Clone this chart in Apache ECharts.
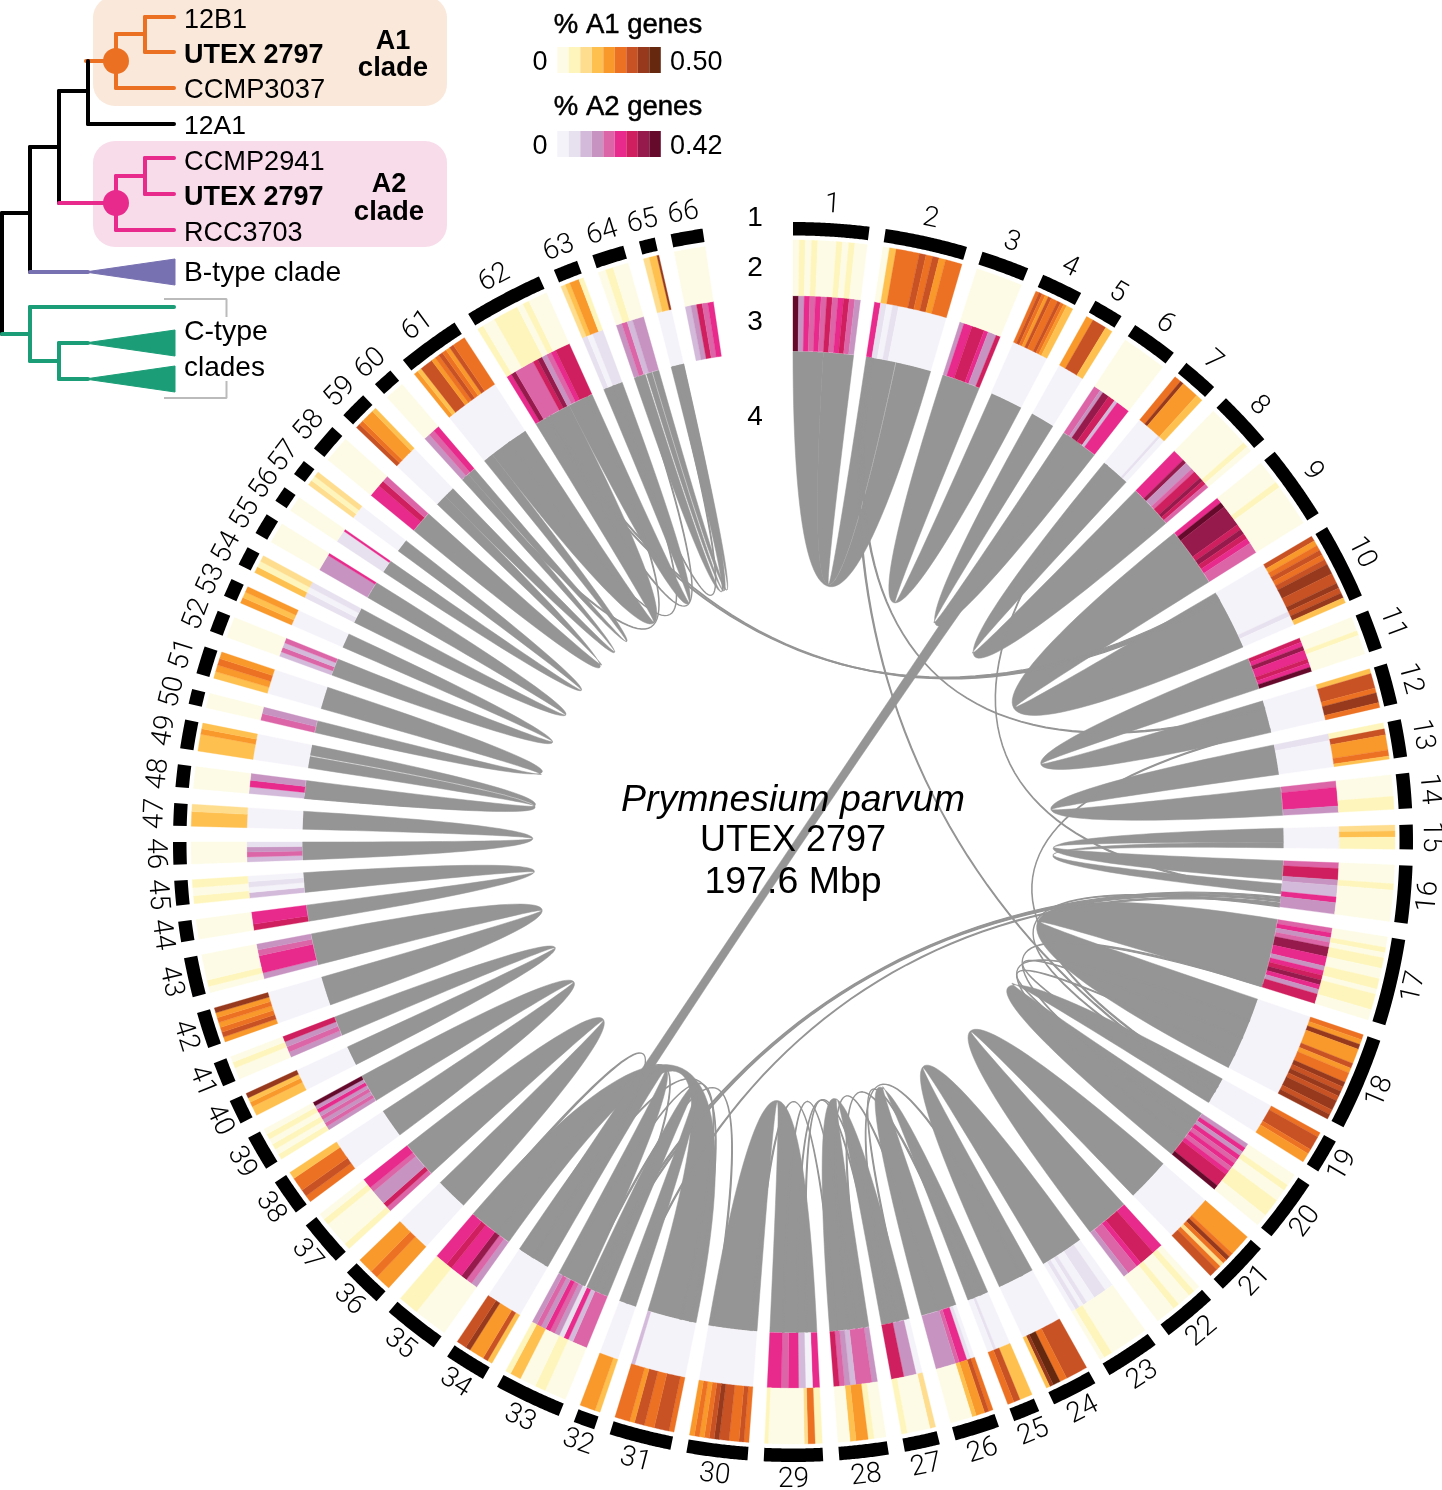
<!DOCTYPE html>
<html><head><meta charset="utf-8">
<style>html,body{margin:0;padding:0;background:#fff}#c{width:1442px;height:1490px}</style>
<script src="https://cdn.jsdelivr.net/npm/echarts@6/dist/echarts.min.js"></script>
</head><body><div id="c"></div>
<script>
// ---------- data ----------
const chromosomeSizesMb = [5.52,5.99,3.50,3.03,2.18,3.42,2.64,4.04,5.44,5.52,2.88,2.96,2.72,2.57,1.79,4.20,6.30,6.77,2.49,4.59,3.97,3.97,3.97,3.34,1.94,3.27,2.57,3.58,4.28,4.43,4.51,1.56,4.90,3.03,4.12,2.96,3.34,2.64,2.57,1.79,1.79,2.64,2.88,1.48,1.79,1.63,1.63,1.63,2.10,1.09,2.02,1.56,1.32,1.40,1.56,1.17,1.17,2.02,2.02,1.48,4.59,5.76,1.79,2.33,1.17,2.33];
// one digit per genomic bin: colour class 0..8 of the percentage of genes
const a1Levels = ["001100110000001100110000","003355555556655664455555","0","565465565433","44666633","0","5574444433","0000000010","000010000000","64565677667673","00010000","36665775","116644444553","00000111","2311","000100000","0010110011011100","547444645576767767","5666544","0010011100","444445752566","01001000","000000000110","666666558873","33336655","5644300000","200001","00144300","1155200000000001","565566765454","566655664555","3444","000011000331","36444766","00000111","44544","1000010","56553","101010","33437","0010","4654547","010000","0","101","0","332","0","33343","0","3454","0","434","312","0","0","212","0","654443","0","43666456546555","100111101000","23441","0100","22233337","0"];
const a2Levels = ["883355445544664455664433","551100110000000000000000","3556665336","0","0","443776625555","000000000100","555733466764","587777676544","00000000000100","65755658","0","1100000000","45553","0","466322533","4534775535675366","0","0","353545456668","0","556665443","00111001010","0","00000100","0155433333","03366","34442346","550022555445555","0","0000000000000002","0","444251345343","0","34755655","0","46333455","0","34343538","0","3436","0","355543","655","2010","2431","0","253","0","43","0","2424","0","101","33333335","1111115","0","5564","0","345","0","57444467345666","1011","34233","0","23645"];
// homology links: chrA, fracA0, fracA1, chrB, fracB0, fracB1
const homologyBlocks = [
[1,0,.5,2,.46,1],[1,.5,1,2,0,.45],[3,0,1,4,.03,1],[5,0,1,6,0,1],[7,0,1,8,0,1],[9,0,1,10,0,1],[11,0,1,12,0,1],[13,0,1,14,0,1],
[15,0,.72,16,0,.42],[15,.72,1,16,.5,.72],[17,0,1,18,0,1],[19,0,1,20,0,1],[21,0,1,22,0,1],[23,0,1,24,0,1],[25,0,1,26,0,1],[27,0,1,28,0,1],[29,0,1,30,0,1],
[31,0,1,35,0,1],[32,0,1,33,0,.42],[33,.46,1,34,0,1],[36,0,1,37,0,1],[38,0,1,39,0,1],[40,0,1,41,0,1],[42,0,1,43,0,1],[44,0,1,45,0,1],[46,0,1,47,0,1],
[48,0,1,49,0,.5],[48,0,.1,49,.55,1],[50,0,1,51,0,1],[52,0,1,53,0,1],[54,0,1,55,0,1],[56,0,1,57,0,1],[58,0,1,59,0,.5],[59,.5,1,60,0,.5],[60,.5,1,61,0,.2],[61,.2,1,62,0,.6],[62,.6,1,63,0,1],[64,0,.45,65,0,1],[64,.5,.72,65,.2,.7],[64,.75,1,65,.6,1],
[6,.12,.52,34,.55,.95]];
const thinLinks = [
[10,.05,.09,62,.2,.22],[10,.1,.14,62,.26,.28],
[2,.02,.05,19,.5,.55],[2,.08,.11,12,.2,.25],[7,.1,.14,16,.66,.7],[12,.88,.92,19,.3,.36],
[16,.79,.83,33,.3,.33],[16,.85,.89,33,.24,.27],[16,.92,.96,32,.5,.58],
[17,.96,.99,20,.3,.33],[18,.3,.32,20,.6,.63],[16,.97,1,19,.5,.55],[18,.55,.57,19,.9,.95],[18,.8,.82,20,.2,.23],
[24,.3,.35,27,.6,.65],[25,.3,.4,27,.1,.15],[25,.7,.8,28,.1,.14],[26,.5,.55,28,.5,.54],[27,.8,.85,29,.2,.23],[27,.4,.45,29,.4,.43],[28,.3,.33,29,.7,.73],[28,.8,.83,30,.1,.14],
[30,.9,.93,33,.5,.53],[31,.1,.13,34,.5,.55],[33,.1,.13,35,.3,.33],[34,.05,.1,35,.9,.95],[31,.3,.33,33,.9,.92],
[61,.6,.62,63,.5,.56],[62,.2,.22,64,.1,.14],[60,.2,.3,62,.9,.92],[63,.1,.16,65,.1,.2]];
const chromosomeLabels = chromosomeSizesMb.map((_, i) => String(i + 1));
const a1Palette = ['#fdfbe6','#fef5bd','#fedd8e','#fec04f','#f9982b','#ec7122','#c85223','#97391c','#66280e'];
const a2Palette = ['#f5f3fa','#e7e1ef','#d3b9da','#c794c2','#dc65a8','#e82a8c','#cf1f5e','#961a4c','#660a2c'];
const trackLabels = ['1','2','3','4'];
const cladeTaxa = ['12B1','UTEX 2797','CCMP3037','12A1','CCMP2941','UTEX 2797','RCC3703','B-type clade','C-type','clades'];
// tree drawn in its own (branch length, taxon row) layout on the page axes
const treeBranches = [
 ['#ec7022',[[86,61],[116,61]]],['#ec7022',[[116,34],[116,88]]],['#ec7022',[[116,34],[145,34]]],['#ec7022',[[145,17],[145,52]]],['#ec7022',[[145,17],[174,17]]],['#ec7022',[[145,52],[174,52]]],['#ec7022',[[116,88],[174,88]]],
 ['#000',[[88,61],[88,124]]],['#000',[[88,124],[174,124]]],['#000',[[59,91],[88,91]]],['#000',[[59,91],[59,203]]],['#000',[[30,147],[59,147]]],['#000',[[30,147],[30,272]]],['#000',[[2,213],[30,213]]],['#000',[[2,213],[2,334]]],
 ['#e82a8c',[[59,203],[116,203]]],['#e82a8c',[[116,176],[116,230]]],['#e82a8c',[[116,176],[145,176]]],['#e82a8c',[[145,158],[145,194]]],['#e82a8c',[[145,158],[174,158]]],['#e82a8c',[[145,194],[174,194]]],['#e82a8c',[[116,230],[174,230]]],
 ['#7871b1',[[30,272],[88,272]]],
 ['#1b9e77',[[2,334],[30,334]]],['#1b9e77',[[30,307],[30,361]]],['#1b9e77',[[30,307],[174,307]]],['#1b9e77',[[30,361],[59,361]]],['#1b9e77',[[59,343],[59,379]]],['#1b9e77',[[59,343],[88,343]]],['#1b9e77',[[59,379],[88,379]]]];
const collapsedClades = [['#7871b1',[[85,272],[175,259],[175,285]]],['#1b9e77',[[85,343],[175,330],[175,356]]],['#1b9e77',[[85,379],[175,366],[175,392]]]];

// ---------- layout of the circular tracks (radius axis is in px) ----------
const GAP = 1.1667, AXIS_MAX = 280;
const RIBBON_R = 490.5, CTRL_K = .375;
const TRACKS = {a2:[491,546.3], a1:[546.3,602], kary:[606.5,620], label:638};
const starts = []; { let s = 0; chromosomeSizesMb.forEach((z,i)=>{starts[i]=s; s+=z+GAP;}); }
const ends = starts.map((s,i)=>s+chromosomeSizesMb[i]);
const toDeg = a => a/AXIS_MAX*360;

function arc(api,r,a0,a1){const n=Math.max(2,Math.ceil(Math.abs(a1-a0)/0.12)+1),o=[];
  for(let i=0;i<n;i++)o.push(api.coord([r,a0+(a1-a0)*i/(n-1)]));return o;}
function sectorPoints(api,r0,r1,a0,a1){return arc(api,r1,a0,a1).concat(arc(api,r0,a1,a0));}
function heatRows(levels,track){const rows=[];
  levels.forEach((s,i)=>{const n=s.length;let j=0;
    while(j<n){let k=j;while(k+1<n&&s[k+1]===s[j])k++;
      const a0=starts[i]+chromosomeSizesMb[i]*j/n,a1=starts[i]+chromosomeSizesMb[i]*(k+1)/n;
      rows.push([(track[0]+track[1])/2,(a0+a1)/2,a0,a1,+s[j]]);j=k+1;}});
  return rows;}
function heatSeries(levels,track,palette,name){return {type:'custom',name,coordinateSystem:'polar',silent:true,clip:false,z:3,
  data:heatRows(levels,track),
  renderItem(p,api){const c=palette[api.value(4)];
    return {type:'polygon',shape:{points:sectorPoints(api,track[0],track[1],api.value(2),api.value(3))},style:{fill:c,stroke:c,lineWidth:.35}};}};}
function bezier(api,a,b,out){
  const p0=api.coord([RIBBON_R,a]),p3=api.coord([RIBBON_R,b]);
  const p1=api.coord([RIBBON_R*CTRL_K,a]),p2=api.coord([RIBBON_R*CTRL_K,b]);
  for(let i=1;i<48;i++){const t=i/48,u=1-t,w0=u*u*u,w1=3*u*u*t,w2=3*u*t*t,w3=t*t*t;
    out.push([w0*p0[0]+w1*p1[0]+w2*p2[0]+w3*p3[0],w0*p0[1]+w1*p1[1]+w2*p2[1]+w3*p3[1]]);}
}
function ribbonRows(list){return list.map(l=>{const A=l[0]-1,B=l[3]-1,sa=chromosomeSizesMb[A],sb=chromosomeSizesMb[B];
  return [RIBBON_R,starts[A]+sa*l[1],starts[A]+sa*l[2],starts[B]+sb*l[4],starts[B]+sb*l[5]];});}
function ribbonSeries(list,lw,name){return {type:'custom',name,coordinateSystem:'polar',silent:true,clip:false,z:2,
  data:ribbonRows(list),
  renderItem(p,api){const a0=api.value(1),a1=api.value(2),b0=api.value(3),b1=api.value(4),pts=[];
    arc(api,RIBBON_R,a0,a1).forEach(q=>pts.push(q));
    bezier(api,a1,b0,pts);
    arc(api,RIBBON_R,b0,b1).forEach(q=>pts.push(q));
    bezier(api,b1,a0,pts);
    return {type:'polygon',shape:{points:pts},style:{fill:'#959595',stroke:'#959595',lineWidth:lw}};}};}
const FONT='"Liberation Sans", Arial, sans-serif';
const TEXT_DY=2.5;
function pageText(rows,name){return {type:'custom',name,coordinateSystem:'cartesian2d',silent:true,clip:false,z:8,
  data:rows.map((r,i)=>[r.x,r.y,i]),
  renderItem(p,api){const r=rows[api.value(2)],q=api.coord([r.x,r.y+TEXT_DY]);
    return {type:'text',x:q[0],y:q[1],style:{text:r.t,font:(r.style||'normal')+' '+(r.w||'normal')+' '+r.s+'px '+FONT,fill:'#000',align:r.a||'left',verticalAlign:'middle',stroke:r.faux?'#000':null,lineWidth:r.faux||0}};}};}

const option={animation:false,backgroundColor:'#fff',
 polar:{center:[793,842],radius:[0,620]},
 angleAxis:{type:'value',min:0,max:AXIS_MAX,startAngle:90,clockwise:true,show:false},
 radiusAxis:{type:'value',min:0,max:620,show:false},
 grid:{left:0,right:0,top:0,bottom:0},
 xAxis:{type:'value',min:0,max:1442,show:false},
 yAxis:{type:'value',min:0,max:1490,inverse:true,show:false},
 series:[
  ribbonSeries(homologyBlocks,.5,'homology blocks'),
  ribbonSeries(thinLinks,1.2,'translocated links'),
  heatSeries(a2Levels,TRACKS.a2,a2Palette,'% A2 genes'),
  heatSeries(a1Levels,TRACKS.a1,a1Palette,'% A1 genes'),
  {type:'custom',name:'karyotype',coordinateSystem:'polar',silent:true,clip:false,z:3,
   data:chromosomeSizesMb.map((z,i)=>[TRACKS.kary[1],starts[i],ends[i]]),
   renderItem(p,api){return {type:'polygon',shape:{points:sectorPoints(api,TRACKS.kary[0],TRACKS.kary[1],api.value(1),api.value(2))},style:{fill:'#000'}};}},
  {type:'custom',name:'chromosome labels',coordinateSystem:'polar',silent:true,clip:false,z:4,
   data:chromosomeSizesMb.map((z,i)=>[TRACKS.label,(starts[i]+ends[i])/2,i]),
   renderItem(p,api){const a=api.value(1),deg=toDeg(a),q=api.coord([TRACKS.label,a]);
     const rot=(deg>90&&deg<270)?deg-180:deg;
     return {type:'text',x:q[0],y:q[1],rotation:-rot*Math.PI/180,style:{text:chromosomeLabels[api.value(2)],font:'300 28px Roboto, "Liberation Sans", sans-serif',fill:'#000',align:'center',verticalAlign:'middle'}};}},
  // clade panels
  {type:'custom',name:'clade panels',coordinateSystem:'cartesian2d',silent:true,clip:false,z:1,
   data:[[93,-4,447,106,0],[93,141,447,247,1]],
   renderItem(p,api){const a=api.coord([api.value(0),api.value(1)]),b=api.coord([api.value(2),api.value(3)]);
     return {type:'rect',shape:{x:a[0],y:a[1],width:b[0]-a[0],height:b[1]-a[1],r:22},style:{fill:['#fae8da','#f8dcea'][api.value(4)]}};}},
  {type:'custom',name:'tree',coordinateSystem:'cartesian2d',silent:true,clip:false,z:4,
   data:treeBranches.map((b,i)=>[b[1][0][0],b[1][0][1],i]),
   renderItem(p,api){const b=treeBranches[api.value(2)];
     return {type:'polyline',shape:{points:b[1].map(q=>api.coord(q))},style:{stroke:b[0],lineWidth:4,lineCap:'round',fill:null}};}},
  {type:'custom',name:'collapsed clades',coordinateSystem:'cartesian2d',silent:true,clip:false,z:4,
   data:collapsedClades.map((b,i)=>[b[1][0][0],b[1][0][1],i]),
   renderItem(p,api){const b=collapsedClades[api.value(2)];
     return {type:'polygon',shape:{points:b[1].map(q=>api.coord(q))},style:{fill:b[0],stroke:b[0],lineWidth:1,lineJoin:'round'}};}},
  {type:'scatter',name:'A1 node',coordinateSystem:'cartesian2d',silent:true,z:5,symbolSize:26,itemStyle:{color:'#ec7022',opacity:1},data:[[116,61]]},
  {type:'scatter',name:'A2 node',coordinateSystem:'cartesian2d',silent:true,z:5,symbolSize:26,itemStyle:{color:'#e82a8c',opacity:1},data:[[116,203]]},
  {type:'line',name:'C-type bracket top',coordinateSystem:'cartesian2d',silent:true,z:3,symbol:'none',lineStyle:{color:'#bbb',width:2},data:[[164,299],[226.5,299],[226.5,317]]},
  {type:'line',name:'C-type bracket bottom',coordinateSystem:'cartesian2d',silent:true,z:3,symbol:'none',lineStyle:{color:'#bbb',width:2},data:[[226.5,381],[226.5,398],[164,398]]},
  // legend swatches
  {type:'custom',name:'legend swatches',coordinateSystem:'cartesian2d',silent:true,clip:false,z:4,
   data:a1Palette.map((c,i)=>[557.3+i*11.5,47,0,i]).concat(a2Palette.map((c,i)=>[557.3+i*11.5,131,1,i])),
   renderItem(p,api){const a=api.coord([api.value(0),api.value(1)]),b=api.coord([api.value(0)+11.5,api.value(1)+26]);
     const pal=api.value(2)?a2Palette:a1Palette;
     return {type:'rect',shape:{x:a[0],y:a[1],width:b[0]-a[0],height:b[1]-a[1]},style:{fill:pal[api.value(3)]}};}},
  pageText([
   {x:184,y:18,t:cladeTaxa[0],s:27},{x:184,y:53,t:cladeTaxa[1],s:27,w:'bold'},{x:184,y:88,t:cladeTaxa[2],s:27.3},
   {x:184,y:124,t:cladeTaxa[3],s:26.5},{x:184,y:160,t:cladeTaxa[4],s:27.2},{x:184,y:195,t:cladeTaxa[5],s:27,w:'bold'},{x:184,y:231,t:cladeTaxa[6],s:27},
   {x:184,y:271,t:cladeTaxa[7],s:28.3},{x:184,y:330,t:cladeTaxa[8],s:28.5},{x:184,y:366,t:cladeTaxa[9],s:28},
   {x:393,y:39,t:'A1',s:27,w:'bold',a:'center'},{x:393,y:66,t:'clade',s:27.5,w:'bold',a:'center'},
   {x:389,y:182,t:'A2',s:27,w:'bold',a:'center'},{x:389,y:210,t:'clade',s:27.5,w:'bold',a:'center'},
   {x:628,y:23,t:'% A1 genes',s:27.5,a:'center',faux:.5},{x:628,y:105,t:'% A2 genes',s:27.5,a:'center',faux:.5},
   {x:540,y:60,t:'0',s:27,a:'center'},{x:670,y:60,t:'0.50',s:27},{x:540,y:144,t:'0',s:27,a:'center'},{x:670,y:144,t:'0.42',s:27},
   {x:755,y:216,t:trackLabels[0],s:28,a:'center'},{x:755,y:266,t:trackLabels[1],s:28,a:'center'},{x:755,y:320,t:trackLabels[2],s:28,a:'center'},{x:755,y:415,t:trackLabels[3],s:28,a:'center'},
   {x:793,y:798,t:'Prymnesium parvum',s:37.5,style:'italic',a:'center'},{x:793,y:839,t:'UTEX 2797',s:36,a:'center'},{x:793,y:880,t:'197.6 Mbp',s:37.5,a:'center'}
  ],'annotations')
 ]};
const chart=echarts.init(document.getElementById('c'),null,{renderer:'canvas',width:1442,height:1490});
chart.setOption(option);
</script></body></html>
